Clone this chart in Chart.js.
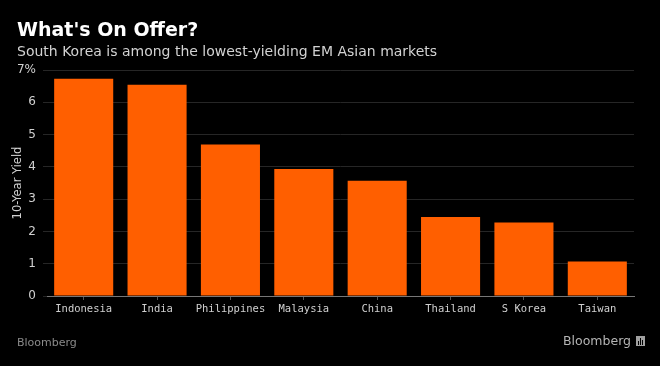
<!DOCTYPE html>
<html lang="en">
<head>
    <meta charset="UTF-8">
    <title>What's On Offer?</title>
    <script src="https://cdn.jsdelivr.net/npm/chart.js@4"></script>
    <style>
        html, body { margin: 0; padding: 0; background: #000; }
        #wrap { width: 660px; height: 366px; }
    </style>
</head>
<body>
<div id="wrap"><canvas id="chart" width="660" height="366"></canvas></div>
<script>
    // values
    const markets = ['Indonesia', 'India', 'Philippines', 'Malaysia', 'China', 'Thailand', 'S Korea', 'Taiwan']
    const yields = [6.73, 6.54, 4.69, 3.93, 3.57, 2.45, 2.28, 1.07]
    const title = "What's On Offer?"
    const subtitle = 'South Korea is among the lowest-yielding EM Asian markets'
    const axisTitle = '10-Year Yield'
    const source = 'Bloomberg'

    const orange = '#ff5f00'

    // title, subtitle and footer are drawn straight onto the canvas
    const textPlugin = {
        id: 'bbgText',
        afterDraw(chart) {
            const c = chart.ctx
            c.save()
            c.textBaseline = 'alphabetic'
            c.textAlign = 'left'

            c.fillStyle = '#ffffff'
            c.font = 'bold 19px "DejaVu Sans"'
            c.fillText(title, 17, 36)

            c.fillStyle = '#d2d2d2'
            c.font = '14px "DejaVu Sans"'
            c.fillText(subtitle, 17, 56)

            c.fillStyle = '#8a8a8a'
            c.font = '11px "DejaVu Sans"'
            c.fillText(source, 17, 346)

            c.fillStyle = '#b5b5b5'
            c.font = '12.5px "DejaVu Sans"'
            c.textAlign = 'right'
            c.fillText(source, 631, 345)

            // little logo square
            c.fillStyle = '#a0a0a0'
            c.fillRect(636, 336, 9, 10)
            c.fillStyle = '#000'
            c.fillRect(638, 341, 1, 4)
            c.fillRect(640, 338, 1, 7)
            c.fillRect(642, 340, 1, 5)
            c.restore()
        }
    }

    let ctx = document.getElementById('chart').getContext('2d')
    let chart = new Chart(ctx, {
        type: 'bar',
        data: {
            labels: markets,
            datasets: [{
                label: axisTitle,
                data: yields,
                backgroundColor: orange,
                borderWidth: 0,
                categoryPercentage: 1,
                barPercentage: 0.805,
            }],
        },
        options: {
            responsive: false,
            animation: false,
            devicePixelRatio: 1,
            layout: {
                padding: {top: 70, left: 0, right: 26, bottom: 49},
            },
            scales: {
                x: {
                    grid: {
                        display: true,
                        drawOnChartArea: false,
                        offset: false,
                        tickLength: 4,
                        color: '#555',
                    },
                    border: {
                        display: true,
                        color: '#777',
                        width: 1,
                    },
                    ticks: {
                        color: '#d0d0d0',
                        padding: 3,
                        maxRotation: 0,
                        autoSkip: false,
                        font: {family: '"DejaVu Sans Mono"', size: 10.5},
                    },
                    afterFit(scale) {
                        scale.height = 21
                    },
                },
                y: {
                    min: 0,
                    max: 7,
                    ticks: {
                        stepSize: 1,
                        color: '#d0d0d0',
                        padding: 7,
                        font: {family: '"DejaVu Sans"', size: 12},
                        callback: v => v === 7 ? '7%' : v,
                    },
                    grid: {
                        color: '#262626',
                        tickLength: 4,
                    },
                    border: {display: false},
                    title: {
                        display: true,
                        text: axisTitle,
                        color: '#d0d0d0',
                        font: {family: '"DejaVu Sans"', size: 11.5},
                        padding: {top: 11, bottom: 0},
                    },
                    afterFit(scale) {
                        scale.width = 47
                    },
                },
            },
            plugins: {
                legend: {display: false},
                tooltip: {enabled: false},
            },
        },
        plugins: [textPlugin],
    })
</script>
</body>
</html>
